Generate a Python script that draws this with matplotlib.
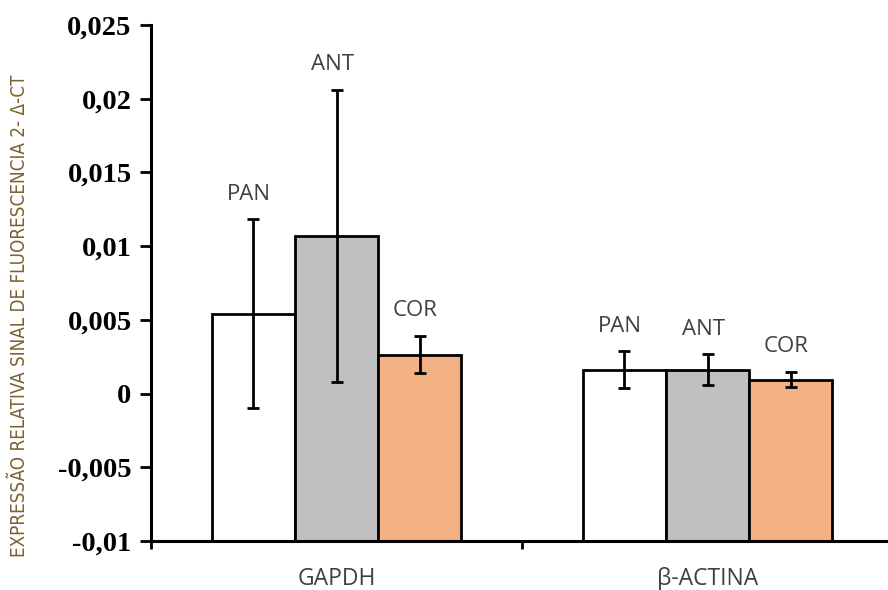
import matplotlib
matplotlib.use("Agg")
import matplotlib.pyplot as plt
import numpy as np

# ── Data ─────────────────────────────────────────────────────
genes = ["GAPDH", "β-ACTINA"]
groups = ["PAN", "ANT", "COR"]
means = {
    "PAN": [0.00542, 0.00163],
    "ANT": [0.0107, 0.00163],
    "COR": [0.00264, 0.00095],
}
errors = {
    "PAN": [0.0064, 0.00125],
    "ANT": [0.0099, 0.00105],
    "COR": [0.00127, 0.00053],
}
yticks = [-0.01, -0.005, 0, 0.005, 0.01, 0.015, 0.02, 0.025]
ytick_labels = ["-0,01", "-0,005", "0", "0,005", "0,01", "0,015", "0,02", "0,025"]

COLORS = {"PAN": "white", "ANT": "#c0c0c0", "COR": "#f4b183"}
BASE = -0.01          # bars rise from the bottom of the value axis
BAR_W = 0.224
TEXT_GRAY = "#404040"

fig = plt.figure(figsize=(8.88, 5.9), dpi=100)
ax = fig.add_axes([151 / 888, 1 - 541 / 590, 742 / 888, (541 - 25) / 590])

x = np.arange(len(genes))
for i, g in enumerate(groups):
    pos = x + (i - 1) * BAR_W
    heights = np.array(means[g]) - BASE
    ax.bar(pos, heights, BAR_W, bottom=BASE, color=COLORS[g],
           edgecolor="black", linewidth=2.0, zorder=2)
    ax.errorbar(pos, means[g], yerr=errors[g], fmt="none", ecolor="black",
                elinewidth=2.0, capsize=4, capthick=2.0, zorder=3)
    for p, m, e in zip(pos, means[g], errors[g]):
        ax.annotate(g, (p, m + e), xytext=(-3, 18), textcoords="offset points",
                    ha="center", va="center", fontsize=16,
                    family="Open Sans", color=TEXT_GRAY)

ax.set_xlim(-0.5, 1.5)
ax.set_ylim(-0.01, 0.025)
ax.set_yticks(yticks)
ax.set_yticklabels(ytick_labels, family="Liberation Serif",
                   fontweight="bold", fontsize=20.5)
ax.set_xticks([-0.5, 0.5, 1.5])
ax.set_xticklabels([])
ax.tick_params(axis="y", direction="out", length=8, width=2, pad=6)
ax.tick_params(axis="x", direction="out", length=6, width=2)
for i, name in enumerate(genes):
    ax.text(i, -0.01255, name, ha="center", va="center", fontsize=16.5,
            family="Open Sans", color=TEXT_GRAY)

for side in ("top", "right"):
    ax.spines[side].set_visible(False)
ax.spines["left"].set_linewidth(2.2)
ax.spines["bottom"].set_linewidth(2.2)

fig.text(20 / 888, 1 - 316 / 590,
         "EXPRESSÃO RELATIVA SINAL DE FLUORESCENCIA 2- Δ-CT",
         rotation=90, ha="center", va="center", fontsize=13.5,
         family="DejaVu Sans", fontstretch="condensed", color="#7a6330")

fig.savefig("out.png", dpi=100)
